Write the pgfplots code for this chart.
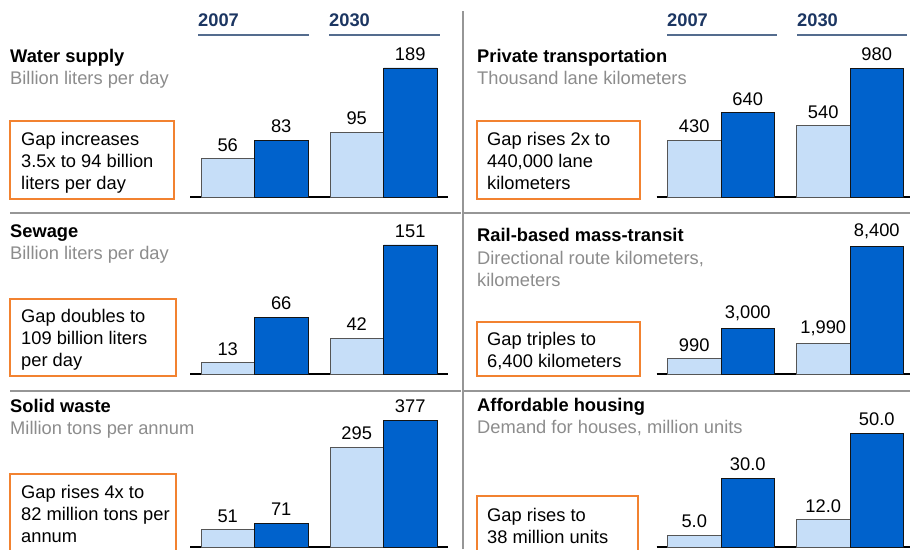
\documentclass[border=0pt]{standalone}
\usepackage{pgfplots}
\pgfplotsset{compat=1.18}
\usepackage{fontspec}
\setmainfont{Liberation Sans}

\definecolor{lightbar}{RGB}{198,222,248}
\definecolor{darkbar}{RGB}{0,98,204}
\definecolor{lightedge}{RGB}{85,85,85}
\definecolor{darkedge}{RGB}{20,20,20}
\definecolor{boxorange}{RGB}{242,130,48}
\definecolor{subgray}{RGB}{140,140,140}
\definecolor{rulegray}{RGB}{150,150,150}
\definecolor{headnavy}{RGB}{28,54,98}
\definecolor{headline}{RGB}{84,108,142}
\newcommand{\ft}{\fontsize{18.3}{22}\selectfont}

\pgfplotsset{
  panel/.style={
    scale only axis, width=258pt, anchor=south west,
    xmin=-0.5, xmax=1.5, ymin=0,
    ybar=0pt, bar width=53.5pt,
    axis x line=bottom, axis y line=none,
    x axis line style={-, line width=2.6pt, black},
    xtick=\empty, ytick=\empty, clip=false,
    nodes near coords, point meta=explicit symbolic,
    every node near coord/.append style={font=\ft, inner sep=0pt, yshift=7pt},
  },
  light/.style={fill=lightbar, draw=lightedge, line width=0.9pt},
  dark/.style={fill=darkbar, draw=darkedge, line width=0.9pt},
}

\tikzset{
  ttl/.style={anchor=base west, inner sep=0pt, font=\ft\bfseries},
  sub/.style={anchor=base west, inner sep=0pt, font=\ft, text=subgray},
  txt/.style={anchor=base west, inner sep=0pt, font=\ft},
  hd/.style={anchor=base west, inner sep=0pt, font=\ft\bfseries, text=headnavy},
  gapbox/.style={draw=boxorange, line width=1.3pt},
}

\begin{document}
\begin{tikzpicture}
\clip (0pt,0pt) rectangle (910pt,549pt);
\path[use as bounding box] (0pt,0pt) rectangle (910pt,549pt);

% column headers
\node[hd] at (198pt,522.5pt) {2007};
\node[hd] at (329pt,522.5pt) {2030};
\node[hd] at (667pt,522.5pt) {2007};
\node[hd] at (797pt,522.5pt) {2030};
\draw[headline, line width=1.2pt] (198pt,514pt) -- (309pt,514pt);
\draw[headline, line width=1.2pt] (329pt,514pt) -- (440pt,514pt);
\draw[headline, line width=1.2pt] (667pt,514pt) -- (777pt,514pt);
\draw[headline, line width=1.2pt] (797pt,514pt) -- (907pt,514pt);

% dividers
\draw[rulegray, line width=1.2pt] (463pt,0pt) -- (463pt,538pt);
\draw[rulegray, line width=1.2pt] (10pt,336pt) -- (461pt,336pt);
\draw[rulegray, line width=1.2pt] (463pt,336pt) -- (910pt,336pt);
\draw[rulegray, line width=1.2pt] (10pt,158pt) -- (461pt,158pt);
\draw[rulegray, line width=1.2pt] (463pt,158pt) -- (910pt,158pt);

% titles and units
\node[ttl] at (10pt,486pt) {Water supply};
\node[sub] at (10pt,464pt) {Billion liters per day};
\node[ttl] at (477pt,486pt) {Private transportation};
\node[sub] at (477pt,464pt) {Thousand lane kilometers};
\node[ttl] at (10pt,311pt) {Sewage};
\node[sub] at (10pt,289pt) {Billion liters per day};
\node[ttl] at (477pt,307pt) {Rail-based mass-transit};
\node[sub] at (477pt,284pt) {Directional route kilometers,};
\node[sub] at (477pt,262pt) {kilometers};
\node[ttl] at (10pt,136pt) {Solid waste};
\node[sub] at (10pt,114pt) {Million tons per annum};
\node[ttl] at (477pt,137pt) {Affordable housing};
\node[sub] at (477pt,115pt) {Demand for houses, million units};

% gap boxes
\draw[gapbox] (10pt,350pt) rectangle (174pt,428pt);
\node[txt] at (21pt,403pt) {Gap increases};
\node[txt] at (21pt,381pt) {3.5x to 94 billion};
\node[txt] at (21pt,359pt) {liters per day};

\draw[gapbox] (477pt,350pt) rectangle (640pt,428pt);
\node[txt] at (487pt,403pt) {Gap rises 2x to};
\node[txt] at (487pt,381pt) {440,000 lane};
\node[txt] at (487pt,359pt) {kilometers};

\draw[gapbox] (10pt,173pt) rectangle (176pt,250pt);
\node[txt] at (21pt,226pt) {Gap doubles to};
\node[txt] at (21pt,204pt) {109 billion liters};
\node[txt] at (21pt,182pt) {per day};

\draw[gapbox] (477pt,173pt) rectangle (640pt,227pt);
\node[txt] at (487pt,203pt) {Gap triples to};
\node[txt] at (487pt,181pt) {6,400 kilometers};

\draw[gapbox] (10pt,-11pt) rectangle (176pt,75pt);
\node[txt] at (21pt,51pt) {Gap rises 4x to};
\node[txt] at (21pt,29pt) {82 million tons per};
\node[txt] at (21pt,7pt) {annum};

\draw[gapbox] (477pt,-11pt) rectangle (638pt,53pt);
\node[txt] at (487pt,28pt) {Gap rises to};
\node[txt] at (487pt,6pt) {38 million units};

% bar panels
\begin{axis}[panel, at={(190pt,352pt)}, height=129pt, ymax=189]
\addplot[light] coordinates {(0,56) [56] (1,95) [95]};
\addplot[dark] coordinates {(0,83) [83] (1,189) [189]};
\end{axis}

\begin{axis}[panel, at={(656.5pt,352pt)}, height=129pt, ymax=980]
\addplot[light] coordinates {(0,430) [430] (1,540) [540]};
\addplot[dark] coordinates {(0,640) [640] (1,980) [980]};
\end{axis}

\begin{axis}[panel, at={(190pt,175pt)}, height=129pt, ymax=151]
\addplot[light] coordinates {(0,13) [13] (1,42) [42]};
\addplot[dark] coordinates {(0,66) [66] (1,151) [151]};
\end{axis}

\begin{axis}[panel, at={(656.5pt,175pt)}, height=128pt, ymax=8400]
\addplot[light] coordinates {(0,990) [990] (1,1990) [{1,990}]};
\addplot[dark] coordinates {(0,3000) [{3,000}] (1,8400) [{8,400}]};
\end{axis}

\begin{axis}[panel, at={(190pt,2pt)}, height=127pt, ymax=377]
\addplot[light] coordinates {(0,51) [51] (1,295) [295]};
\addplot[dark] coordinates {(0,71) [71] (1,377) [377]};
\end{axis}

\begin{axis}[panel, at={(656.5pt,2pt)}, height=114pt, ymax=50]
\addplot[light] coordinates {(0,5) [5.0] (1,12) [12.0]};
\addplot[dark] coordinates {(0,30) [30.0] (1,50) [50.0]};
\end{axis}
\end{tikzpicture}
\end{document}
